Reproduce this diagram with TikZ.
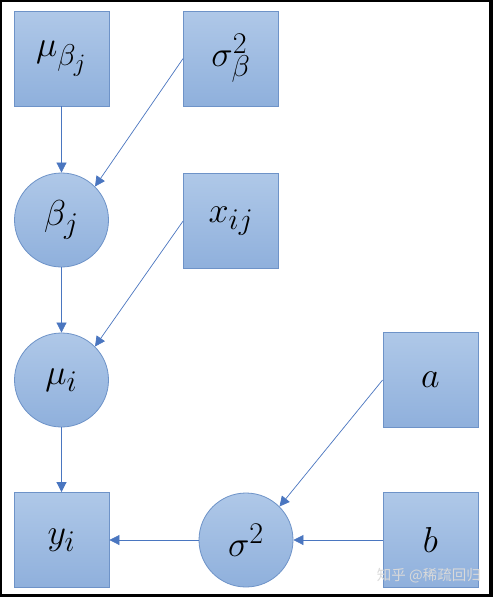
\documentclass[tikz,border=0pt]{standalone}
\usepackage{graphicx}
\usepackage{fontspec}
\newfontfamily\cjk{Noto Sans CJK SC}
\usetikzlibrary{arrows.meta,shapes.geometric}
\definecolor{fillTop}{HTML}{AFC8E8}
\definecolor{fillBot}{HTML}{8FB0DC}
\definecolor{edgeC}{HTML}{6E93C8}
\definecolor{arrC}{HTML}{4A76C0}
\newcommand{\varlabel}[1]{\scalebox{1.45}{\Huge$#1$}}
\tikzset{
  varbox/.style={rectangle, draw=edgeC, line width=0.8pt, top color=fillTop, bottom color=fillBot,
    minimum width=95pt, minimum height=95pt, inner sep=0pt},
  varcirc/.style={circle, draw=edgeC, line width=0.8pt, top color=fillTop, bottom color=fillBot,
    minimum size=94pt, inner sep=0pt},
  link/.style={draw=arrC, line width=0.7pt, -{Triangle[length=10pt,width=10pt]}},
}
\begin{document}
\begin{tikzpicture}[x=1pt,y=-1pt]
\useasboundingbox (0,0) rectangle (493,597);
\fill[black] (0,0) rectangle (493,597);
\fill[white] (2,2) rectangle (489,594);
\node[varbox] (mub) at (61.5,58.5) {\varlabel{\mu_{\beta_j}}};
\node[varbox] (sb) at (231,58.5) {\varlabel{\sigma_\beta^2}};
\node[varcirc] (bj) at (61.5,220) {\varlabel{\beta_j}};
\node[varbox] (x) at (231,221) {\varlabel{x_{ij}}};
\node[varcirc] (mui) at (61.5,380) {\varlabel{\mu_i}};
\node[varbox] (y) at (61.5,540) {\varlabel{y_i}};
\node[varcirc] (s2) at (246,540) {\varlabel{\sigma^2}};
\node[varbox] (a) at (430.5,380) {\varlabel{a}};
\node[varbox] (b) at (430.5,540) {\varlabel{b}};
\draw[link] (mub.south) -- (bj.north);
\draw[link] (sb.west) -- (bj.north east);
\draw[link] (bj.south) -- (mui.north);
\draw[link] (x.west) -- (mui.north east);
\draw[link] (mui.south) -- (y.north);
\draw[link] (a.west) -- (s2.north east);
\draw[link] (b.west) -- (s2.east);
\draw[link] (s2.west) -- (y.east);
\node[font=\cjk\fontsize{14.5}{16}\selectfont, text=white!85!black, anchor=east, inner sep=0pt] (wm) at (481,576) {知乎 @稀疏回归};
\end{tikzpicture}
\end{document}
